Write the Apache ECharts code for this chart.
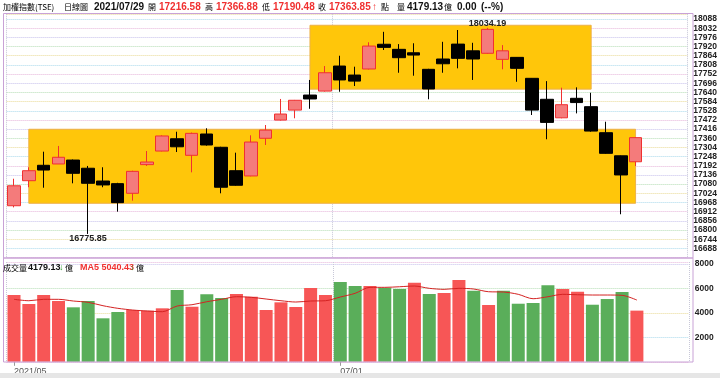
<!DOCTYPE html>
<html>
<head>
<meta charset="utf-8">
<script src="https://cdn.jsdelivr.net/npm/echarts@6/dist/echarts.min.js"></script>
<style>
html,body{margin:0;padding:0;background:#fff;}
#chart{width:720px;height:378px;}
</style>
</head>
<body>
<div id="chart"></div>
<script>
// 交易日
const dates = [
  "2021/05/31",
  "2021/06/01","2021/06/02","2021/06/03","2021/06/04","2021/06/07","2021/06/08","2021/06/09","2021/06/10","2021/06/11",
  "2021/06/15","2021/06/16","2021/06/17","2021/06/18","2021/06/21","2021/06/22","2021/06/23","2021/06/24","2021/06/25",
  "2021/06/28","2021/06/29","2021/06/30",
  "2021/07/01","2021/07/02","2021/07/05","2021/07/06","2021/07/07","2021/07/08","2021/07/09","2021/07/12","2021/07/13",
  "2021/07/14","2021/07/15","2021/07/16","2021/07/19","2021/07/20","2021/07/21","2021/07/22","2021/07/23","2021/07/26",
  "2021/07/27","2021/07/28","2021/07/29"
];
// x 軸刻度
const tickIndex = [0, 22];
const tickText = ["2021/05", "07/01"];
// 開 收 低 高
const opens  = [16948,17101,17195,17203,17227,17177,17099,17083,17024,17199,17282,17357,17256,17386,17305,17162,17130,17360,17471,17532,17624,17648,17801,17746,17783,17934,17903,17882,17781,17844,17935,17894,17879,17842,17854,17726,17598,17485,17604,17553,17394,17253,17216.58];
const closes = [17070,17162,17166,17244,17146,17085,17075,16967,17158,17215,17374,17308,17390,17319,17061,17073,17337,17410,17508,17592,17600,17760,17716,17709,17923,17915,17852,17868,17661,17815,17848,17844,18025,17894,17787,17532,17457,17565,17578,17404,17268,17136,17363.85];
const lows   = [16938,17061,17058,17203,17085,16775.85,17061,16912,16979,17191,17280,17276,17152,17315,17024,17070,17128,17319,17468,17482,17540,17645,17644,17679,17780,17899,17760,17742,17598,17760,17787,17716,17876,17781,17705,17502,17354,17482,17512,17400,17265,16896,17190.48];
const highs  = [17113,17183,17278,17313,17230,17191,17183,17088,17162,17282,17378,17400,17395,17421,17308,17272,17378,17441,17600,17594,17716,17801,17864,17797,17946,18010,17935,17940,17784,17949,18021,17943,18034.19,17929,17856,17728,17709,17669,17671,17638,17461,17255,17366.88];
// 成交量(億)
const volumes = [5453,4718,5453,4963,4449,4963,3551,4065,4228,4171,4367,5861,4498,5510,5208,5535,5314,4228,4857,4473,6024,5453,6514,6188,6188,6049,5943,6457,5535,5616,6677,5804,4637,5804,4743,4800,6245,5943,5722,4661,5126,5698,4179.13];
const volMa5 = [5102,4988,5102,5102,4963,4857,4580,4367,4228,4147,4090,4555,4661,4906,5102,5314,5265,5126,4988,4881,4963,4988,5290,5592,6081,6081,6130,6188,6000,5918,6000,5943,5722,5698,5510,5151,5314,5510,5477,5453,5453,5428,5040.43];
// 區間(索引, 價位)
const zoneStart = [1, 20];
const zoneEnd   = [42, 39];
const zoneLow   = [16963, 17660];
const zoneHigh  = [17415, 18050];

const RED = "#F03030", GREEN = "#2E9E2E";
const last = dates.length - 1;

const isMark = (i) => tickIndex.indexOf(i) >= 0;
const tickLabel = (i) => tickText[tickIndex.indexOf(i)];

const candles = dates.map((d, i) => [opens[i], closes[i], lows[i], highs[i]]);
const volUp = volumes.map((v, i) => i === 0 ? closes[0] >= opens[0] : closes[i] >= closes[i - 1]);

const gridColors = ["#E6B4DA", "#A9D9EC", "#E9DA95", "#B4DDB4", "#C6C0EC"];
const numFont = 'bold 10px "Liberation Sans"';
const smallNum = 'bold 9px "Liberation Sans"';
const cjkFont = '8px "Noto Sans CJK TC"';

function txt(x, y, s, fill, font) {
  return { type: "text", x: x, y: y, silent: true, z: 100,
    style: { text: s, fill: fill, font: font, verticalAlign: "middle", textVerticalAlign: "middle" } };
}

const header = [
  txt(3, 7, "加權指數(TSE)", "#000", cjkFont),
  txt(64, 7, "日線圖", "#000", cjkFont),
  txt(94, 7, dates[last], "#111", numFont),
  txt(148, 7, "開", "#000", cjkFont),
  txt(159, 7, opens[last].toFixed(2), RED, numFont),
  txt(205, 7, "高", "#000", cjkFont),
  txt(216, 7, highs[last].toFixed(2), RED, numFont),
  txt(262, 7, "低", "#000", cjkFont),
  txt(273, 7, lows[last].toFixed(2), RED, numFont),
  txt(318, 7, "收", "#000", cjkFont),
  txt(329, 7, closes[last].toFixed(2), RED, numFont),
  txt(372, 7, "↑", RED, numFont),
  txt(381, 7, "點", "#000", cjkFont),
  txt(397, 7, "量", "#000", cjkFont),
  txt(407, 7, volumes[last].toFixed(2), "#111", numFont),
  txt(444, 7, "億", "#000", cjkFont),
  txt(457, 7, "0.00", "#111", numFont),
  txt(481, 7, "(--%)", "#111", numFont),
  txt(3, 268, "成交量", "#000", cjkFont),
  txt(28, 268, volumes[last].toFixed(2), "#111", smallNum),
  txt(59, 268, "↓", GREEN, smallNum),
  txt(65, 268, "億", "#000", cjkFont),
  txt(80, 268, "MA5 " + volMa5[last].toFixed(2), RED, smallNum),
  txt(130, 268, "↓", GREEN, smallNum),
  txt(136, 268, "億", "#000", cjkFont),
  { type: "rect", shape: { x: 3.5, y: 13.5, width: 689.5, height: 244.5 }, silent: true, z: 90,
    style: { fill: "none", stroke: "#C9A2D6", lineWidth: 1 } },
  { type: "rect", shape: { x: 3.5, y: 258, width: 689.5, height: 104 }, silent: true, z: 90,
    style: { fill: "none", stroke: "#C9A2D6", lineWidth: 1 } },
  { type: "rect", shape: { x: 0, y: 373, width: 720, height: 5 }, silent: true, z: 90,
    style: { fill: "#E6E6E6" } }
];

const yLabel = { margin: 6, color: "#222", fontSize: 8.5, fontWeight: "bold", fontFamily: "Liberation Sans",
  showMinLabel: false, showMaxLabel: false, formatter: (v) => String(v) };

let myChart = echarts.init(document.getElementById("chart"));
myChart.setOption({
  animation: false,
  backgroundColor: "#fff",
  graphic: header,
  grid: [
    { left: 6.6, top: 13.8, width: 682.2, height: 243.7 },
    { left: 6.6, top: 262, width: 682.2, height: 99.8 }
  ],
  xAxis: [
    {
      gridIndex: 0, type: "category", data: dates, max: 45, boundaryGap: true,
      axisLine: { show: false }, axisTick: { show: false }, axisLabel: { show: false },
      splitLine: { show: true, interval: (i) => isMark(i), lineStyle: { color: "#C8C8D8", type: "dotted" } }
    },
    {
      gridIndex: 1, type: "category", data: dates, max: 45, boundaryGap: true,
      axisLine: { show: false },
      axisTick: { show: true, alignWithLabel: true, interval: (i) => isMark(i), length: 4, lineStyle: { color: "#999" } },
      axisLabel: {
        interval: (i) => isMark(i), formatter: (v, i) => isMark(i) ? tickLabel(i) : "",
        align: "left", margin: 5, color: "#555", fontSize: 9, fontFamily: "Liberation Sans"
      },
      splitLine: { show: true, interval: (i) => isMark(i), lineStyle: { color: "#C8C8D8", type: "dotted" } }
    }
  ],
  yAxis: [
    {
      gridIndex: 0, type: "value", position: "right", min: 16632, max: 18120, interval: 56,
      axisLine: { show: false }, axisTick: { show: false },
      axisLabel: yLabel,
      splitLine: { show: true, lineStyle: { color: gridColors, type: "dotted" } }
    },
    {
      gridIndex: 1, type: "value", position: "right", min: 0, max: 8150, interval: 2000,
      axisLine: { show: false }, axisTick: { show: false },
      axisLabel: yLabel,
      splitLine: { show: true, lineStyle: { color: gridColors, type: "dotted" } }
    }
  ],
  series: [
    {
      name: "區間", type: "line", xAxisIndex: 0, yAxisIndex: 0, data: [], z: 1, silent: true,
      markArea: {
        silent: true,
        itemStyle: { color: "#FFC60A", borderColor: "#EDB04A", borderWidth: 1 },
        data: zoneStart.map((s, k) => [
          { xAxis: dates[s], yAxis: zoneLow[k] },
          { xAxis: dates[zoneEnd[k]], yAxis: zoneHigh[k] }
        ])
      }
    },
    {
      name: "日K", type: "candlestick", xAxisIndex: 0, yAxisIndex: 0, data: candles, z: 3,
      barWidth: 13,
      itemStyle: { color: "#F47B7B", color0: "#000", borderColor: RED, borderColor0: "#000", borderWidth: 1 },
      markPoint: {
        symbol: "circle", symbolSize: 0,
        label: { show: true, color: "#222", fontSize: 9, fontWeight: "bold", fontFamily: "Liberation Sans",
          formatter: (p) => Number(p.value).toFixed(2) },
        data: [
          { type: "max", valueDim: "highest", label: { position: "top", distance: 0 } },
          { type: "min", valueDim: "lowest", label: { position: "bottom", distance: 0 } }
        ]
      }
    },
    {
      name: "成交量", type: "bar", xAxisIndex: 1, yAxisIndex: 1, data: volumes, barWidth: 13, z: 2,
      itemStyle: { color: (p) => volUp[p.dataIndex] ? "#F75656" : "#5AAE5A" }
    },
    {
      name: "MA5", type: "line", xAxisIndex: 1, yAxisIndex: 1, data: volMa5, z: 4,
      showSymbol: false, smooth: 0.3,
      lineStyle: { color: "#D42222", width: 1 }
    }
  ]
});
</script>
</body>
</html>
